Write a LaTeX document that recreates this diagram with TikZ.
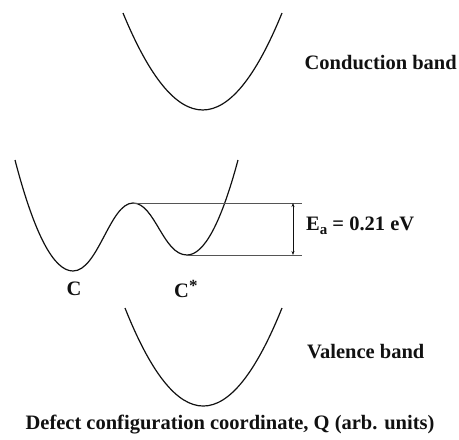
\documentclass[tikz,border=0pt]{standalone}
\usepackage{fontspec}
\setmainfont{Liberation Serif}
\usepackage{tikz}
\usetikzlibrary{arrows.meta}
\definecolor{ink}{HTML}{111111}
\definecolor{rule}{HTML}{555555}
\tikzset{
  band/.style={draw=ink, line width=1.2pt},
  lvl/.style={draw=rule, line width=0.7pt},
  arr/.style={{Stealth[length=4pt,width=3pt]}-{Stealth[length=4pt,width=3pt]}, draw=ink, line width=0.6pt},
  lbl/.style={font=\fontsize{20.5}{24}\selectfont\bfseries, text=ink, inner sep=0pt},
}
\begin{document}
\begin{tikzpicture}[x=1pt, y=-1pt]
  \useasboundingbox (0,0) rectangle (459,440);
  % conduction band
  \draw[band] (123,13) .. controls (176.3,142.3) and (229.3,142.3) .. (282,13);
  \node[lbl, anchor=east] (cb) at (457,63) {Conduction band};
  % defect well: C and C*
  \coordinate (wl) at (15,160);
  \coordinate (cmin) at (73,271);
  \coordinate (hump) at (133,203);
  \coordinate (csmin) at (187,255);
  \coordinate (wr) at (238,160);
  \draw[band] (wl) .. controls (34.3,234) and (53.7,271) .. (cmin)
    .. controls (98,271) and (110,203) .. (hump)
    .. controls (155,203) and (163,255) .. (csmin)
    .. controls (204,255) and (221,223.3) .. (wr);
  \coordinate (topend) at (302,203);
  \coordinate (botend) at (302,255);
  \draw[lvl] (hump) -- (topend);
  \draw[lvl] (csmin) -- (botend);
  \coordinate (atop) at (293,203);
  \coordinate (abot) at (293,255);
  \draw[arr] (atop) -- (abot);
  \node[lbl, anchor=west] (ea) at (306,226) {E\raisebox{-0.2em}{\fontsize{15}{15}\selectfont a} = 0.21 eV};
  \node[lbl] (c) at (74,289) {C};
  \node[lbl, anchor=west] (cs) at (174,289) {C\raisebox{0.3em}{\fontsize{17}{17}\selectfont *}};
  % valence band
  \draw[band] (125,308) .. controls (177,438.7) and (229.3,438.7) .. (282,308);
  \node[lbl, anchor=west] (vb) at (307,352) {Valence band};
  \node[lbl] (axis) at (230,425) {Defect configuration coordinate, Q (arb. units)};
\end{tikzpicture}
\end{document}
